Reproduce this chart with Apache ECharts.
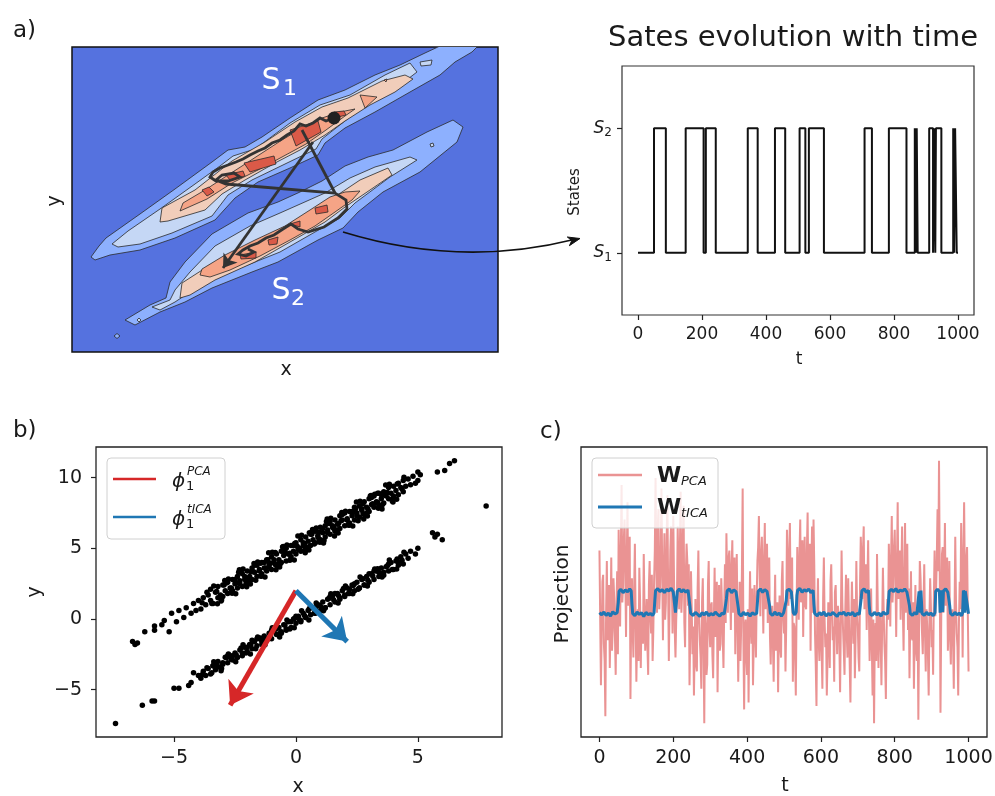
<!DOCTYPE html>
<html>
<head>
<meta charset="utf-8">
<script src="https://cdn.jsdelivr.net/npm/echarts@6/dist/echarts.min.js"></script>
<style>
html,body{margin:0;padding:0;background:#fff;}
#chart{width:995px;height:796px;}
</style>
</head>
<body>
<div id="chart"></div>
<script>
// ---------- data ----------
const FONT = 'DejaVu Sans';

// Hidden state sequence: each entry is the state that starts at that time
const stateTimes  = [0,50,87,149,205,212,243,343,374,428,460,505,523,534,581,708,731,784,839,865,868,871,874,910,922,925,929,931,948,985,988,991,996,1000];
const stateLevels = [1,2,1,2,1,2,1,2,1,2,1,2,1,2,1,2,1,2,1,2,1,2,1,2,1,2,1,2,1,2,1,2,1,1];
const stateTicks = [1, 2];
const timeTicks = [0, 200, 400, 600, 800, 1000];
const scatterTicksX = [-5, 0, 5];
const scatterTicksY = [-5, 0, 5, 10];

// Free-energy contour levels (outer to inner) for the two basins, in plot units
const s1Level1 = [[1.9,9.5],[2.7,10.6],[3.4,11.4],[6.8,13.8],[10.3,16.3],[14.0,19.0],[15.6,20.2],[17.3,20.5],[19.0,21.5],[21.8,23.4],[24.6,25.2],[27.3,26.2],[30.3,27.7],[32.8,28.7],[35.3,29.9],[36.8,30.6],[40.6,30.6],[40.0,30.0],[38.3,29.0],[36.8,27.7],[33.8,26.0],[30.3,24.0],[27.3,22.4],[25.3,20.9],[24.6,19.7],[21.8,18.4],[18.6,17.0],[16.3,15.4],[14.3,13.2],[10.3,11.4],[6.8,10.2],[3.8,9.7],[2.3,9.2]];
const s1Level2 = [[4.0,10.8],[5.6,12.1],[8.8,14.3],[12.3,16.8],[14.8,18.6],[16.1,19.6],[18.3,20.3],[21.8,22.9],[24.8,24.7],[27.8,25.7],[31.3,27.7],[33.8,28.9],[34.5,28.0],[32.8,26.7],[30.8,25.5],[27.8,23.5],[25.0,21.3],[24.4,20.3],[21.3,18.8],[18.0,17.2],[15.6,15.7],[14.0,13.6],[10.0,11.9],[6.8,10.8],[4.6,10.5]];
const s1Level3 = [[8.8,13.0],[9.0,14.4],[12.3,16.2],[14.6,18.0],[16.0,19.1],[19.3,21.0],[22.3,23.0],[25.0,24.5],[27.6,25.4],[31.0,27.1],[33.3,27.7],[34.1,27.3],[32.3,26.0],[29.8,24.7],[27.3,23.1],[25.3,21.7],[22.8,20.2],[20.3,18.9],[17.3,17.2],[15.0,15.8],[13.3,14.2],[9.6,13.1]];
const s1Level4 = [[10.8,14.1],[11.1,14.9],[13.3,16.2],[15.3,17.5],[17.0,18.6],[19.0,19.9],[21.0,21.2],[23.0,22.4],[25.0,23.4],[26.8,24.0],[28.3,24.3],[27.3,23.6],[25.4,22.2],[23.4,20.8],[21.0,19.5],[18.6,18.2],[16.0,16.9],[13.5,15.3]];
const s1Level4Islands = [
  [[28.8,25.7],[30.5,25.5],[29.3,24.4]],
  [[31.2,27.2],[31.5,27.3],[31.4,27.0]]
];
const s1Level2Islands = [
  [[34.8,29.0],[36.0,29.2],[35.9,28.7],[34.9,28.6]]
];
const s1Peaks = [
  [[13.0,16.2],[13.7,16.5],[14.2,16.0],[13.5,15.6]],
  [[17.2,18.9],[20.2,19.6],[20.4,18.8],[17.8,18.0]],
  [[15.4,17.7],[17.1,18.1],[17.3,17.6],[15.8,17.2]],
  [[21.8,22.2],[24.6,23.1],[24.9,22.0],[22.4,20.6]],
  [[26.2,24.0],[27.2,24.1],[27.4,23.7],[26.6,23.5]]
];
const s2Level1 = [[5.3,3.2],[7.8,4.7],[9.4,5.4],[9.8,7.0],[11.3,9.0],[14.0,11.8],[17.6,13.9],[20.6,15.0],[22.8,16.0],[25.0,17.1],[27.3,18.6],[29.6,19.5],[32.1,20.2],[35.5,22.0],[38.1,23.2],[39.1,22.5],[38.5,21.0],[34.8,18.0],[31.1,16.0],[28.6,14.0],[27.1,12.4],[24.6,11.2],[20.6,9.0],[18.0,8.0],[14.0,6.4],[11.3,5.0],[8.8,4.0],[6.3,2.7]];
const s2Level2 = [[8.0,4.5],[9.8,5.2],[10.3,6.2],[11.8,8.0],[14.3,10.6],[17.8,12.6],[20.8,13.9],[25.3,15.9],[27.8,17.4],[30.3,18.5],[33.8,19.5],[34.5,19.2],[31.8,17.5],[28.3,14.9],[26.8,13.4],[24.3,12.0],[20.8,10.0],[17.8,8.8],[14.3,7.4],[11.8,6.0],[10.3,5.0],[8.8,4.2]];
const s2Level3 = [[10.8,5.4],[11.0,6.9],[13.8,8.7],[16.8,10.2],[20.3,12.0],[22.8,13.4],[25.8,15.2],[28.8,17.2],[31.6,18.4],[32.0,17.7],[29.8,16.2],[27.3,14.5],[25.3,13.0],[21.8,11.0],[18.3,9.0],[14.3,7.2],[11.8,5.7]];
const s2Level4 = [[12.8,7.7],[13.0,8.3],[15.3,9.7],[18.3,11.2],[21.3,12.6],[23.8,14.2],[25.8,15.5],[27.3,16.0],[28.8,16.1],[28.0,15.2],[26.3,14.0],[24.3,12.6],[21.8,11.2],[18.8,9.6],[15.8,8.2],[13.8,7.5]];
const s2Level1Islands = [
  [[4.2,1.6],[4.5,1.85],[4.8,1.6],[4.5,1.35]]
];
const s2Level2Islands = [
  [[6.5,3.2],[6.7,3.4],[6.9,3.2],[6.7,3.0]],
  [[35.8,20.8],[36.1,20.9],[36.2,20.6],[35.9,20.5]]
];
const s2Peaks = [
  [[24.3,14.4],[25.5,14.7],[25.6,14.0],[24.4,13.8]],
  [[19.6,11.2],[20.6,11.5],[20.5,10.8],[19.7,10.7]],
  [[16.8,9.7],[18.4,10.0],[18.4,9.4],[16.9,9.3]],
  [[21.8,12.8],[22.8,13.1],[22.8,12.5]]
];

// Sample trajectory drawn over the free-energy surface
const trajStart = [26.2,23.4];
const trajWander = [[26.2,23.4],[25.4,23.1],[24.8,23.4],[24.1,22.9],[23.4,22.6],[22.8,22.8],[22.2,22.1],[21.5,21.7],[20.8,21.2],[20.0,20.9],[19.3,20.4],[18.6,20.1],[17.8,19.7],[17.1,19.3],[16.4,19.0],[15.6,18.7],[14.8,18.4],[14.1,18.0],[13.8,17.5],[14.4,17.1],[15.6,17.1],[16.8,17.5],[16.2,17.9],[15.0,17.7],[14.4,17.2],[15.4,16.8],[26.3,15.9],[27.4,15.2],[27.5,14.3],[26.6,13.4],[25.2,12.5],[23.6,12.0],[22.6,12.3],[21.9,12.8],[21.1,12.3],[20.2,11.7],[19.4,11.4],[18.6,10.9],[17.8,10.6],[17.1,10.2],[16.6,9.8],[17.4,9.6],[18.2,10.0],[17.6,10.3]];
const trajJump = [[23.0,22.2],[26.3,15.9]];
const trajFinal = [[24.1,21.0],[15.1,8.4]];

// Scatter of configurations (x, y)
const upperCluster = [[-6.7,-1.6],[-6.6,-1.8],[-6.5,-1.7],[-6.2,-0.9],[-5.8,-0.8],[-5.8,-0.5],[-5.5,-0.4],[-5.4,-0.1],[-5.2,-0.9],[-5.1,0.4],[-4.9,-0.2],[-4.8,0.6],[-4.6,0.1],[-4.5,0.8],[-4.3,0.4],[-4.2,1.1],[-4.1,0.6],[-4.0,1.3],[-3.9,0.7],[-3.8,1.5],[-3.7,1.0],[-3.6,1.7],[-3.5,1.3],[-3.5,2.1],[-3.4,1.1],[-3.3,1.9],[-3.2,1.5],[-3.2,2.3],[-3.1,1.7],[-3.0,2.4],[-3.0,1.6],[-2.9,2.0],[-2.8,2.6],[-2.8,1.8],[-2.7,2.2],[-2.6,2.8],[-2.6,2.0],[-2.5,2.5],[-2.4,3.0],[-2.4,2.2],[-2.3,2.7],[-2.2,2.3],[-2.2,3.2],[-2.1,2.8],[-2.0,3.4],[-2.0,2.6],[-1.9,3.0],[-1.8,3.6],[-1.8,2.8],[-1.7,3.3],[-1.6,3.8],[-1.6,3.0],[-1.5,3.5],[-1.4,3.2],[-1.4,4.0],[-1.3,3.6],[-1.2,4.2],[-1.2,3.4],[-1.1,3.9],[-1.0,3.5],[-1.0,4.4],[-0.9,4.0],[-0.8,4.6],[-0.8,3.8],[-0.7,4.2],[-0.6,4.8],[-0.6,4.0],[-0.5,4.5],[-0.4,4.1],[-0.4,5.0],[-0.3,4.6],[-0.2,5.2],[-0.2,4.4],[-0.1,4.8],[0.0,5.4],[0.0,4.6],[0.1,5.0],[0.2,5.6],[0.2,4.8],[0.3,5.2],[0.4,5.8],[0.4,5.0],[0.5,5.5],[0.6,5.2],[0.6,6.0],[0.7,5.6],[0.8,6.2],[0.8,5.4],[0.9,5.9],[1.0,6.5],[1.0,5.6],[1.1,6.1],[1.2,6.6],[1.2,5.8],[1.3,6.3],[1.4,6.0],[1.4,6.9],[1.5,6.5],[1.6,7.0],[1.6,6.2],[1.7,6.7],[1.8,7.3],[1.8,6.4],[1.9,7.0],[2.0,6.6],[2.0,7.5],[2.1,7.1],[2.2,7.6],[2.2,6.8],[2.3,7.3],[2.4,7.9],[2.4,7.0],[2.5,7.5],[2.6,7.2],[2.6,8.0],[2.7,7.7],[2.8,8.3],[2.8,7.4],[2.9,7.9],[3.0,8.5],[3.0,7.6],[3.1,8.1],[3.2,8.7],[3.2,7.9],[3.3,8.3],[3.4,8.0],[3.4,8.9],[3.5,8.5],[3.6,9.0],[3.6,8.2],[3.7,8.7],[3.8,9.3],[3.8,8.5],[3.9,8.9],[4.0,9.4],[4.0,8.7],[4.1,9.1],[4.2,9.6],[4.2,8.8],[4.3,9.3],[4.4,9.0],[4.4,9.8],[4.5,9.4],[4.6,9.9],[4.7,9.5],[4.8,10.1],[4.9,9.6],[5.0,10.4],[5.0,9.8],[5.1,10.2],[5.8,10.4],[6.1,10.5],[6.3,11.0],[6.5,11.2],[-2.5,2.8],[-2.3,2.5],[-2.1,3.0],[-1.9,2.7],[-1.7,3.8],[-1.5,3.4],[-1.3,4.0],[-1.1,3.7],[-0.9,4.2],[-0.7,3.9],[-0.5,5.0],[-0.3,4.6],[-0.1,5.2],[0.1,4.9],[0.3,5.4],[0.5,5.1],[0.7,6.2],[0.9,5.8],[1.1,6.4],[1.3,6.1],[1.5,6.6],[1.7,6.3],[1.9,7.4],[2.1,7.0],[2.3,7.6],[2.5,7.3],[2.7,7.8],[2.9,7.5],[3.1,8.6],[3.3,8.2],[3.5,8.8],
  [-3.85,1.15],[-3.65,1.90],[-3.45,1.10],[-3.25,1.95],[-3.05,1.35],[-2.85,2.55],[-2.65,2.20],[-2.45,2.55],[-2.25,3.30],[-2.05,2.50],[-1.85,3.35],[-1.65,2.75],[-1.45,3.95],[-1.25,3.60],[-1.05,3.95],[-0.85,4.70],[-0.65,3.90],[-0.45,4.75],[-0.25,4.15],[-0.05,5.35],[0.15,5.00],[0.35,5.35],[0.55,6.10],[0.75,5.30],[0.95,6.15],[1.15,5.55],[1.35,6.75],[1.55,6.40],[1.75,6.75],[1.95,7.50],[2.15,6.70],[2.35,7.55],[2.55,6.95],[2.75,8.15],[2.95,7.80],[3.15,8.15],[3.35,8.90],[3.55,8.10],[3.75,8.95],[3.95,8.35],[4.15,9.55],[4.35,9.20],
  [-2.95,2.40],[-2.65,2.05],[-2.35,3.30],[-2.05,2.85],[-1.75,3.35],[-1.45,3.05],[-1.15,4.20],[-0.85,3.85],[-0.55,5.10],[-0.25,4.65],[0.05,5.15],[0.35,4.85],[0.65,6.00],[0.95,5.65],[1.25,6.90],[1.55,6.45],[1.85,6.95],[2.15,6.65],[2.45,7.80],[2.75,7.45],[3.05,8.70],[3.35,8.25],[3.65,8.75],[3.95,8.45],
  [-3.37,2.33],[-3.07,1.28],[-2.77,2.83],[-2.47,1.78],[-2.17,3.53],[-1.87,2.48],[-1.57,4.03],[-1.27,2.98],[-0.97,4.73],[-0.67,3.68],[-0.37,5.23],[-0.07,4.18],[0.23,5.93],[0.53,4.88],[0.83,6.43],[1.13,5.38],[1.43,7.13],[1.73,6.08],[2.03,7.63],[2.33,6.58],[2.63,8.33],[2.93,7.28],[3.23,8.83],[3.53,7.78],[3.83,9.53],[4.13,8.48],[4.43,10.03],
  [-3.22,1.08],[-2.92,2.73],[-2.62,1.83],[-2.32,3.48],[-2.02,2.28],[-1.72,3.93],[-1.42,3.03],[-1.12,4.68],[-0.82,3.48],[-0.52,5.13],[-0.22,4.23],[0.08,5.88],[0.38,4.68],[0.68,6.33],[0.98,5.43],[1.28,7.08],[1.58,5.88],[1.88,7.53],[2.18,6.63],[2.48,8.28],[2.78,7.08],[3.08,8.73],[3.38,7.83],[3.68,9.48],[3.98,8.28]];
const lowerCluster = [[-7.4,-7.4],[-6.3,-6.1],[-5.9,-5.8],[-5.8,-5.8],[-5.0,-4.9],[-4.8,-4.9],[-4.4,-4.7],[-4.3,-4.5],[-4.2,-3.8],[-4.0,-4.0],[-3.9,-4.2],[-3.8,-3.7],[-3.7,-4.0],[-3.6,-3.5],[-3.5,-3.9],[-3.4,-3.3],[-3.3,-3.6],[-3.2,-3.0],[-3.1,-3.4],[-3.0,-3.1],[-2.9,-2.7],[-2.8,-3.1],[-2.7,-2.6],[-2.6,-2.9],[-2.5,-2.4],[-2.4,-2.7],[-2.3,-2.2],[-2.2,-2.6],[-2.1,-2.0],[-2.0,-2.3],[-1.9,-1.8],[-1.8,-2.1],[-1.7,-1.6],[-1.6,-1.9],[-1.5,-1.4],[-1.4,-1.8],[-1.3,-1.2],[-1.2,-1.5],[-1.1,-1.0],[-1.0,-1.4],[-0.9,-0.8],[-0.8,-1.1],[-0.7,-0.6],[-0.6,-1.0],[-0.5,-0.4],[-0.4,-0.7],[-0.3,-0.2],[-0.2,-0.6],[-0.1,0.0],[0.0,-0.3],[0.1,0.2],[0.2,-0.1],[0.3,0.4],[0.4,0.1],[0.5,0.6],[0.6,0.3],[0.7,0.8],[0.8,0.4],[0.9,1.0],[1.0,0.6],[1.1,1.2],[1.2,0.8],[1.3,1.4],[1.4,1.0],[1.5,1.6],[1.6,1.2],[1.7,1.8],[1.8,1.4],[1.9,2.0],[2.0,1.6],[2.1,2.2],[2.2,1.8],[2.3,2.4],[2.4,2.0],[2.5,2.6],[2.6,2.2],[2.7,2.8],[2.8,2.4],[2.9,3.0],[3.0,2.6],[3.1,3.2],[3.2,2.8],[3.3,3.4],[3.4,3.0],[3.5,3.6],[3.6,3.1],[3.7,3.7],[3.8,3.4],[3.9,4.0],[4.0,3.5],[4.1,4.1],[4.2,3.8],[4.3,4.4],[4.4,3.9],[4.5,4.6],[4.6,4.3],[4.7,4.8],[4.9,4.6],[5.0,5.0],[5.6,6.1],[5.7,5.8],[5.8,6.0],[6.0,5.6],[7.8,8.0],[-3.4,-3.3],[-3.2,-3.4],[-3.0,-3.2],[-2.8,-2.6],[-2.6,-2.6],[-2.4,-2.7],[-2.2,-2.4],[-2.0,-2.0],[-1.8,-1.5],[-1.6,-1.4],[-1.4,-1.6],[-1.2,-1.5],[-1.0,-0.8],[-0.8,-0.7],[-0.6,-0.9],[-0.4,-0.8],[-0.2,-0.2],[0.0,0.2],[0.2,-0.2],[0.4,0.1],[0.6,0.8],[0.8,0.8],[1.0,0.9],[1.2,0.8],[1.4,1.6],[1.6,1.8],[1.8,1.5],[2.0,1.7],[2.2,2.1],[2.4,2.5],[2.6,2.2],[2.8,2.4],[3.0,3.2],[3.2,3.4],[3.4,3.3],[3.6,3.3],[3.8,3.9],[4.2,4.0],
  [-3.85,-3.95],[-3.65,-3.45],[-3.45,-3.80],[-3.25,-3.23],[-3.05,-3.50],[-2.85,-2.75],[-2.65,-2.85],[-2.45,-2.55],[-2.25,-2.05],[-2.05,-2.40],[-1.85,-1.83],[-1.65,-2.10],[-1.45,-1.35],[-1.25,-1.45],[-1.05,-1.15],[-0.85,-0.65],[-0.65,-1.00],[-0.45,-0.43],[-0.25,-0.70],[-0.05,0.05],[0.15,-0.05],[0.35,0.25],[0.55,0.75],[0.75,0.40],[0.95,0.97],[1.15,0.70],[1.35,1.45],[1.55,1.35],[1.75,1.65],[1.95,2.15],[2.15,1.80],[2.35,2.37],[2.55,2.10],[2.75,2.85],[2.95,2.75],[3.15,3.05],[3.35,3.55],[3.55,3.20],[3.75,3.77],[3.95,3.50],[4.15,4.25],[4.35,4.15],
  [-3.37,-3.02],[-3.07,-3.67],[-2.77,-2.47],[-2.47,-3.02],[-2.17,-1.82],[-1.87,-2.47],[-1.57,-1.27],[-1.27,-1.82],[-0.97,-0.62],[-0.67,-1.27],[-0.37,-0.07],[-0.07,-0.62],[0.23,0.58],[0.53,-0.07],[0.83,1.13],[1.13,0.58],[1.43,1.78],[1.73,1.13],[2.03,2.33],[2.33,1.78],[2.63,2.98],[2.93,2.33],[3.23,3.53],[3.53,2.98],[3.83,4.18],[4.13,3.53],[4.43,4.73]];

// First components drawn from the common origin
const pcaVector  = [[0, 2], [-2.7, -6.1]];
const ticaVector = [[0, 2], [2.1, -1.6]];

// Projections over time (PCA sampled every 2 steps)
const pcaStep = 2;
const pcaProjection = [
  1.2,-0.8,-2.7,-1.2,0.3,0.5,-1.5,-2.0,-3.6,-0.6,0.9,-1.4,-0.4,0.2,-2.2,-0.9,1.0,-1.7,-1.1,0.4,
  -0.2,-1.3,-2.4,-0.5,0.6,-1.8,1.8,0.4,-1.0,1.2,3.1,-0.3,0.2,1.5,2.1,0.6,-1.3,0.9,2.6,-0.4,
  0.8,1.6,-3.1,-0.7,0.4,-1.1,-1.9,0.1,1.4,-0.8,-2.6,-1.3,-0.5,-2.0,0.7,-0.2,-2.2,-0.6,-0.9,-1.5,
  1.1,-0.4,-1.7,-1.0,-0.2,-1.6,-2.4,0.2,0.9,-0.7,-1.2,0.5,-2.0,-1.1,0.3,1.2,3.3,0.8,-0.6,1.9,
  2.4,-0.5,0.1,1.1,3.0,0.6,-1.4,0.3,1.7,-0.8,-0.3,1.4,2.8,0.2,-2.0,-0.4,1.2,1.9,0.5,-1.2,
  2.2,0.4,-1.1,-1.9,-0.8,-0.2,1.9,0.7,-0.5,1.3,2.9,-0.6,0.0,1.6,2.5,-0.9,-1.6,0.5,1.4,0.9,
  -0.4,0.8,-2.7,-1.2,0.6,-0.5,-1.8,-1.0,-3.0,-1.6,-0.2,-2.1,-2.3,0.1,1.2,-0.7,-1.4,-1.9,-2.8,-0.3,
  0.4,-1.5,-3.8,-0.6,-1.0,-2.4,-2.1,0.2,0.9,-1.1,-1.6,-0.4,-0.3,-1.8,-2.5,-0.8,0.7,-1.3,-1.2,0.3,
  -2.9,-1.0,0.2,-1.7,-1.5,0.4,-0.4,-1.3,-2.2,-0.5,0.8,-0.9,1.7,0.3,-0.6,1.0,1.2,0.2,-1.1,0.7,
  1.5,-0.6,0.0,1.0,-1.8,-0.3,1.1,-0.9,-2.6,-1.2,0.3,-2.0,-1.0,0.6,3.0,-1.4,-3.4,-1.0,-0.8,-1.9,
  -2.4,-0.5,-3.2,-1.1,0.6,-0.9,-1.5,0.1,-2.7,-1.4,0.2,-0.8,-1.9,-0.2,0.9,1.3,2.2,0.4,-0.7,1.1,
  1.6,0.2,-1.2,0.9,2.0,-0.5,0.3,1.4,-0.9,0.6,1.0,-1.3,-2.1,-0.8,-0.4,-1.5,-2.6,-0.9,0.5,-1.7,
  -1.5,-0.3,-2.9,-1.2,-0.1,-1.6,-1.9,0.3,0.9,-0.7,-1.2,-0.4,-2.3,-1.0,1.8,0.5,-0.4,1.1,2.0,-0.2,
  0.2,1.0,-2.6,-0.9,-1.0,-1.8,-3.0,-0.6,1.3,0.2,-0.8,1.1,2.1,-0.3,0.4,1.5,-1.3,0.6,1.6,-0.4,
  -0.5,1.2,2.3,0.1,0.6,1.4,-1.7,0.5,1.9,-0.6,2.1,0.8,-1.2,-2.1,-3.3,-0.7,0.4,-1.4,-2.0,-0.9,
  -0.6,-1.7,-2.8,-0.2,1.0,-0.8,-1.6,-1.2,-3.0,-1.9,-0.3,-0.9,-2.2,0.3,0.8,-0.5,-1.4,-1.0,-2.6,0.0,
  0.2,-1.0,-1.8,-0.4,-0.7,-1.5,-2.9,-0.9,1.2,-0.3,-1.1,-1.7,-2.4,-0.6,0.5,-1.2,-1.9,0.4,-0.8,-2.1,
  -3.2,-1.1,0.3,-0.7,-1.5,-0.2,-2.5,-1.3,0.9,-0.6,-1.0,-1.9,-2.3,0.2,1.6,0.9,-0.2,1.2,1.9,-0.5,
  0.4,0.8,-1.1,0.2,1.5,-0.6,-2.0,-1.0,0.1,-1.6,-3.0,-0.8,-3.8,-1.3,-0.9,-2.0,1.1,-0.4,-2.2,-1.1,
  -0.6,-1.4,-2.7,-0.9,0.7,-0.5,-1.5,-2.0,-3.1,-1.1,-0.2,-0.8,1.4,0.5,-1.0,0.9,2.2,-0.3,0.2,1.3,
  1.8,0.4,-1.3,0.7,2.6,-0.2,0.5,1.2,-0.8,0.6,1.9,-0.5,-1.7,0.3,2.0,-0.6,0.3,1.4,-1.1,0.1,
  -2.5,-0.9,0.6,-1.3,-1.4,-0.3,-2.8,-1.1,0.2,-1.7,-2.0,-0.6,-3.7,-1.0,0.9,0.4,-0.5,-1.2,-1.8,-0.4,
  0.8,-1.2,-2.3,-0.5,-1.0,-1.8,-3.0,-0.8,0.4,-0.4,-1.6,-1.1,-2.4,-0.2,1.2,-0.7,0.0,1.0,2.4,0.6,
  3.8,0.5,-3.5,-0.8,1.1,1.3,-0.6,0.2,2.0,-0.4,0.4,1.0,-1.7,-0.9,0.9,-1.3,-2.1,-0.7,-0.5,-1.4,
  -2.8,-0.7,1.6,-0.3,-1.2,-1.6,-3.0,-0.9,0.3,-0.5,2.0,0.6,-1.9,0.8,2.6,0.4,-0.4,0.9,1.3,-0.6,
  -2.3
];
const ticaProjection = [[0,-0.60],[6,-0.66],[12,-0.58],[18,-0.68],[24,-0.61],[30,-0.70],[36,-0.57],[42,-0.64],[48,-0.60],[51,-0.30],[53,0.02],[58,0.08],[64,-0.02],[70,0.06],[76,0.00],[82,0.09],[86,0.03],[88,-0.35],[90,-0.62],[96,-0.69],[102,-0.58],[108,-0.65],[114,-0.60],[120,-0.71],[126,-0.59],[132,-0.66],[138,-0.62],[144,-0.68],[148,-0.60],[150,-0.25],[152,0.04],[158,0.10],[164,0.01],[170,0.07],[176,-0.02],[182,0.08],[188,0.03],[194,0.11],[200,0.00],[204,0.05],[206,-0.60],[209,-0.55],[211,0.02],[216,0.09],[222,0.00],[228,0.07],[234,-0.01],[240,0.06],[243,0.02],[245,-0.40],[247,-0.62],[254,-0.68],[260,-0.59],[266,-0.65],[272,-0.71],[278,-0.60],[284,-0.66],[290,-0.58],[296,-0.69],[302,-0.62],[308,-0.67],[314,-0.58],[320,-0.65],[326,-0.70],[332,-0.61],[338,-0.64],[342,-0.60],[344,-0.20],[346,0.03],[352,0.09],[358,-0.02],[364,0.06],[370,0.01],[374,0.04],[376,-0.45],[378,-0.63],[384,-0.69],[390,-0.59],[396,-0.66],[402,-0.61],[408,-0.70],[414,-0.60],[420,-0.65],[426,-0.62],[428,-0.30],[430,0.02],[436,0.09],[442,-0.01],[448,0.07],[454,0.02],[459,0.05],[461,-0.40],[463,-0.62],[469,-0.68],[475,-0.58],[481,-0.66],[487,-0.61],[493,-0.70],[499,-0.60],[504,-0.64],[506,-0.25],[508,0.04],[514,0.08],[520,0.00],[523,0.03],[525,-0.60],[529,-0.66],[533,-0.58],[535,-0.10],[537,0.05],[543,0.10],[549,-0.01],[555,0.07],[561,0.02],[567,0.09],[573,-0.02],[579,0.05],[581,-0.35],[583,-0.62],[590,-0.69],[596,-0.60],[602,-0.66],[608,-0.58],[614,-0.70],[620,-0.62],[626,-0.67],[632,-0.59],[638,-0.65],[644,-0.71],[650,-0.60],[656,-0.64],[662,-0.58],[668,-0.68],[674,-0.61],[680,-0.66],[686,-0.59],[692,-0.70],[698,-0.62],[704,-0.65],[707,-0.60],[709,-0.20],[711,0.03],[717,0.09],[723,-0.01],[729,0.05],[731,-0.40],[733,-0.63],[739,-0.68],[745,-0.59],[751,-0.66],[757,-0.61],[763,-0.70],[769,-0.58],[775,-0.64],[781,-0.62],[783,-0.30],[785,0.02],[791,0.08],[797,0.01],[803,0.10],[809,-0.01],[815,0.06],[821,0.02],[827,0.09],[833,0.00],[838,0.05],[840,-0.40],[842,-0.62],[848,-0.68],[854,-0.59],[860,-0.65],[864,-0.60],[866,0.02],[868,-0.02],[869,-0.60],[871,0.04],[873,0.00],[874,-0.62],[880,-0.68],[886,-0.59],[892,-0.66],[898,-0.61],[904,-0.69],[909,-0.60],[911,0.02],[916,0.08],[921,0.01],[923,-0.60],[925,0.05],[928,0.00],[930,-0.58],[932,0.03],[938,0.09],[944,-0.01],[947,0.04],[949,-0.40],[951,-0.62],[957,-0.68],[963,-0.59],[969,-0.66],[975,-0.61],[981,-0.69],[984,-0.60],[986,0.04],[988,-0.02],[990,-0.60],[991,0.03],[995,0.06],[997,-0.40],[1000,-0.63]];

// ---------- styling ----------
const INK = '#1a1a1a';
const contourBackground = '#5572df';
const contourColors = ['#8db0fe', '#c5d7f5', '#f1cdba', '#f5a486', '#da5a48'];
const RED = '#d62728', BLUE = '#1f77b4', PINK = '#ea9393';

// contour polygons, painted from the outer level inwards
const contourPolygons = [];
function addPolys(level, list) { list.forEach(pts => contourPolygons.push({ level, pts })); }
addPolys(0, [s1Level1, s2Level1]); addPolys(0, s2Level1Islands);
addPolys(1, [s1Level2, s2Level2]); addPolys(1, s1Level2Islands); addPolys(1, s2Level2Islands);
addPolys(2, [s1Level3, s2Level3]);
addPolys(3, [s1Level4, s2Level4]); addPolys(3, s1Level4Islands);
addPolys(4, s1Peaks); addPolys(4, s2Peaks);

const stateData = stateTimes.map((t, i) => [t, stateLevels[i]]);
const pcaData = pcaProjection.map((v, i) => [i * pcaStep, v]);

const plainFmt = v => String(v);
const minusFmt = v => (v < 0 ? '\u2212' + Math.abs(v) : String(v));

function tickAxis(grid, min, max, ticks, fontSize, margin, formatter, rich) {
  return {
    type: 'value', gridIndex: grid, min, max,
    axisLine: { show: false, onZero: false }, splitLine: { show: false },
    axisTick: { show: true, inside: false, length: 5, customValues: ticks, lineStyle: { color: '#222', width: 1.2 } },
    axisLabel: { show: true, customValues: ticks, color: INK, fontFamily: FONT, fontSize, margin, formatter, rich }
  };
}
function hiddenAxis(grid, min, max) {
  return { type: 'value', gridIndex: grid, min, max, show: true,
    axisLine: { show: false, onZero: false }, axisTick: { show: false }, axisLabel: { show: false }, splitLine: { show: false } };
}
const frame = { show: true, borderColor: '#222', borderWidth: 1.3, backgroundColor: 'transparent', outerBoundsMode: 'none', containLabel: false };

function txt(text, x, y, size, opts) {
  opts = opts || {};
  return {
    type: 'text', x, y, rotation: opts.rot || 0, z: 100,
    style: { text, fill: opts.color || INK, font: (opts.style || '') + ' ' + (opts.weight || '') + ' ' + size + 'px "' + FONT + '"',
      align: opts.align || 'center', verticalAlign: 'middle' }
  };
}

const graphics = [
  // panel tags
  txt('a)', 13, 31, 23, { align: 'left' }),
  txt('b)', 13, 431, 23, { align: 'left' }),
  txt('c)', 540, 432, 23, { align: 'left' }),
  // free-energy panel
  txt('x', 286, 370, 19),
  txt('y', 55, 201, 19, { rot: Math.PI / 2 }),
  txt('S', 271, 81, 30, { color: '#fff' }),
  txt('1', 290, 89, 22, { color: '#fff' }),
  txt('S', 281, 291, 30, { color: '#fff' }),
  txt('2', 298, 299, 22, { color: '#fff' }),
  // state panel
  txt('Sates evolution with time', 793, 38, 29),
  txt('States', 575, 192, 15, { rot: Math.PI / 2 }),
  txt('t', 799, 360, 17),
  // scatter panel
  txt('x', 298, 787, 19),
  txt('y', 35, 592, 19, { rot: Math.PI / 2 }),
  // projection panel
  txt('t', 785, 786, 19),
  txt('Projection', 563, 594, 20, { rot: Math.PI / 2 }),
  // connector from the basin to the state panel
  { type: 'bezierCurve', z: 100, shape: { x1: 343, y1: 232, x2: 574, y2: 239.5, cpx1: 460, cpy1: 268 },
    style: { stroke: '#111', lineWidth: 1.6, fill: null } },
  { type: 'polygon', z: 100, shape: { points: [[580, 238.5], [569.4, 245.7], [571.8, 240.5], [567.3, 237.0]] },
    style: { fill: '#111', stroke: '#111', lineWidth: 1 } },
  // legend of the scatter panel
  { type: 'rect', z: 100, shape: { x: 107, y: 458, width: 118, height: 81, r: 4 },
    style: { fill: 'rgba(255,255,255,0.8)', stroke: '#d0d0d0', lineWidth: 1 } },
  { type: 'line', z: 101, shape: { x1: 113, y1: 479, x2: 156, y2: 479 }, style: { stroke: RED, lineWidth: 2.5 } },
  { type: 'line', z: 101, shape: { x1: 113, y1: 517, x2: 156, y2: 517 }, style: { stroke: BLUE, lineWidth: 2.5 } },
  txt('\u03d5', 172, 482, 20, { align: 'left', style: 'italic' }),
  txt('1', 186, 487, 13, { align: 'left' }),
  txt('PCA', 187, 472, 12, { align: 'left', style: 'italic' }),
  txt('\u03d5', 172, 520, 20, { align: 'left', style: 'italic' }),
  txt('1', 186, 525, 13, { align: 'left' }),
  txt('tICA', 187, 510, 12, { align: 'left', style: 'italic' }),
  // legend of the projection panel
  { type: 'rect', z: 100, shape: { x: 592, y: 458, width: 126, height: 70, r: 4 },
    style: { fill: 'rgba(255,255,255,0.8)', stroke: '#d0d0d0', lineWidth: 1 } },
  { type: 'line', z: 101, shape: { x1: 598, y1: 475, x2: 642, y2: 475 }, style: { stroke: PINK, lineWidth: 2.5 } },
  { type: 'line', z: 101, shape: { x1: 598, y1: 507, x2: 642, y2: 507 }, style: { stroke: BLUE, lineWidth: 3 } },
  txt('W', 657, 476, 22, { align: 'left', weight: 'bold' }),
  txt('PCA', 681, 482, 13, { align: 'left', style: 'italic' }),
  txt('W', 657, 508, 22, { align: 'left', weight: 'bold' }),
  txt('tICA', 681, 514, 13, { align: 'left', style: 'italic' })
];

const option = {
  animation: false,
  textStyle: { fontFamily: FONT },
  grid: [
    Object.assign({}, frame, { left: 72, top: 47, width: 426, height: 305, backgroundColor: contourBackground, borderColor: '#111', borderWidth: 1.5 }),
    Object.assign({}, frame, { left: 622, top: 66, width: 352, height: 249, borderColor: '#333', borderWidth: 1.2 }),
    Object.assign({}, frame, { left: 96, top: 447, width: 406, height: 290 }),
    Object.assign({}, frame, { left: 581, top: 447, width: 406, height: 290 })
  ],
  xAxis: [
    hiddenAxis(0, 0, 42.6),
    tickAxis(1, -50, 1050, timeTicks, 17, 11, plainFmt),
    tickAxis(2, -8.2, 8.45, scatterTicksX, 19, 12, minusFmt),
    tickAxis(3, -50, 1050, timeTicks, 19, 12, plainFmt)
  ],
  yAxis: [
    hiddenAxis(0, 0, 30.5),
    tickAxis(1, 0.5, 2.5, stateTicks, 17, 10, v => '{s|S}{n|' + v + '}', {
      s: { fontFamily: FONT, fontStyle: 'italic', fontSize: 17, color: INK, lineHeight: 22 },
      n: { fontFamily: FONT, fontSize: 12, color: INK, lineHeight: 10, verticalAlign: 'bottom' }
    }),
    tickAxis(2, -8.35, 12.17, scatterTicksY, 19, 14, minusFmt),
    hiddenAxis(3, -4.2, 4.2)
  ],
  graphic: { elements: graphics },
  series: [
    {
      type: 'custom', xAxisIndex: 0, yAxisIndex: 0, clip: true, silent: true,
      data: contourPolygons.map(p => p.pts[0]),
      renderItem: (params, api) => {
        const poly = contourPolygons[params.dataIndex];
        return {
          type: 'polygon',
          shape: { points: poly.pts.map(p => api.coord(p)) },
          style: { fill: contourColors[poly.level], stroke: '#2a2a2a', lineWidth: 0.8 }
        };
      }
    },
    {
      type: 'lines', coordinateSystem: 'cartesian2d', xAxisIndex: 0, yAxisIndex: 0, polyline: true, silent: true,
      data: [{ coords: trajWander }, { coords: trajJump }],
      lineStyle: { color: '#333', width: 2.8, opacity: 1, curveness: 0 }, z: 5
    },
    {
      type: 'lines', coordinateSystem: 'cartesian2d', xAxisIndex: 0, yAxisIndex: 0, silent: true,
      symbol: ['none', 'arrow'], symbolSize: 13,
      data: [{ coords: trajFinal }],
      lineStyle: { color: '#333', width: 2.8, opacity: 1, curveness: 0 }, z: 5
    },
    {
      type: 'scatter', xAxisIndex: 0, yAxisIndex: 0, data: [trajStart], symbolSize: 13,
      itemStyle: { color: '#222', opacity: 1 }, z: 6, silent: true
    },
    {
      type: 'line', xAxisIndex: 1, yAxisIndex: 1, data: stateData, step: 'end', showSymbol: false, symbol: 'none',
      lineStyle: { color: '#111', width: 2 }, silent: true
    },
    {
      type: 'scatter', xAxisIndex: 2, yAxisIndex: 2, data: upperCluster.concat(lowerCluster), symbolSize: 5.5,
      itemStyle: { color: '#000', opacity: 1 }, silent: true
    },
    {
      type: 'lines', coordinateSystem: 'cartesian2d', xAxisIndex: 2, yAxisIndex: 2, silent: true,
      symbol: ['none', 'arrow'], symbolSize: 22,
      data: [{ coords: pcaVector }],
      lineStyle: { color: RED, width: 5, opacity: 1, curveness: 0 }, z: 5
    },
    {
      type: 'lines', coordinateSystem: 'cartesian2d', xAxisIndex: 2, yAxisIndex: 2, silent: true,
      symbol: ['none', 'arrow'], symbolSize: 22,
      data: [{ coords: ticaVector }],
      lineStyle: { color: BLUE, width: 5, opacity: 1, curveness: 0 }, z: 5
    },
    {
      type: 'line', xAxisIndex: 3, yAxisIndex: 3, data: pcaData, showSymbol: false, symbol: 'none',
      lineStyle: { color: PINK, width: 2 }, silent: true, z: 2
    },
    {
      type: 'line', xAxisIndex: 3, yAxisIndex: 3, data: ticaProjection, showSymbol: false, symbol: 'none',
      lineStyle: { color: BLUE, width: 3 }, silent: true, z: 3
    }
  ]
};

const chart = echarts.init(document.getElementById('chart'), null, { renderer: 'canvas', width: 995, height: 796 });
chart.setOption(option);
</script>
</body>
</html>
